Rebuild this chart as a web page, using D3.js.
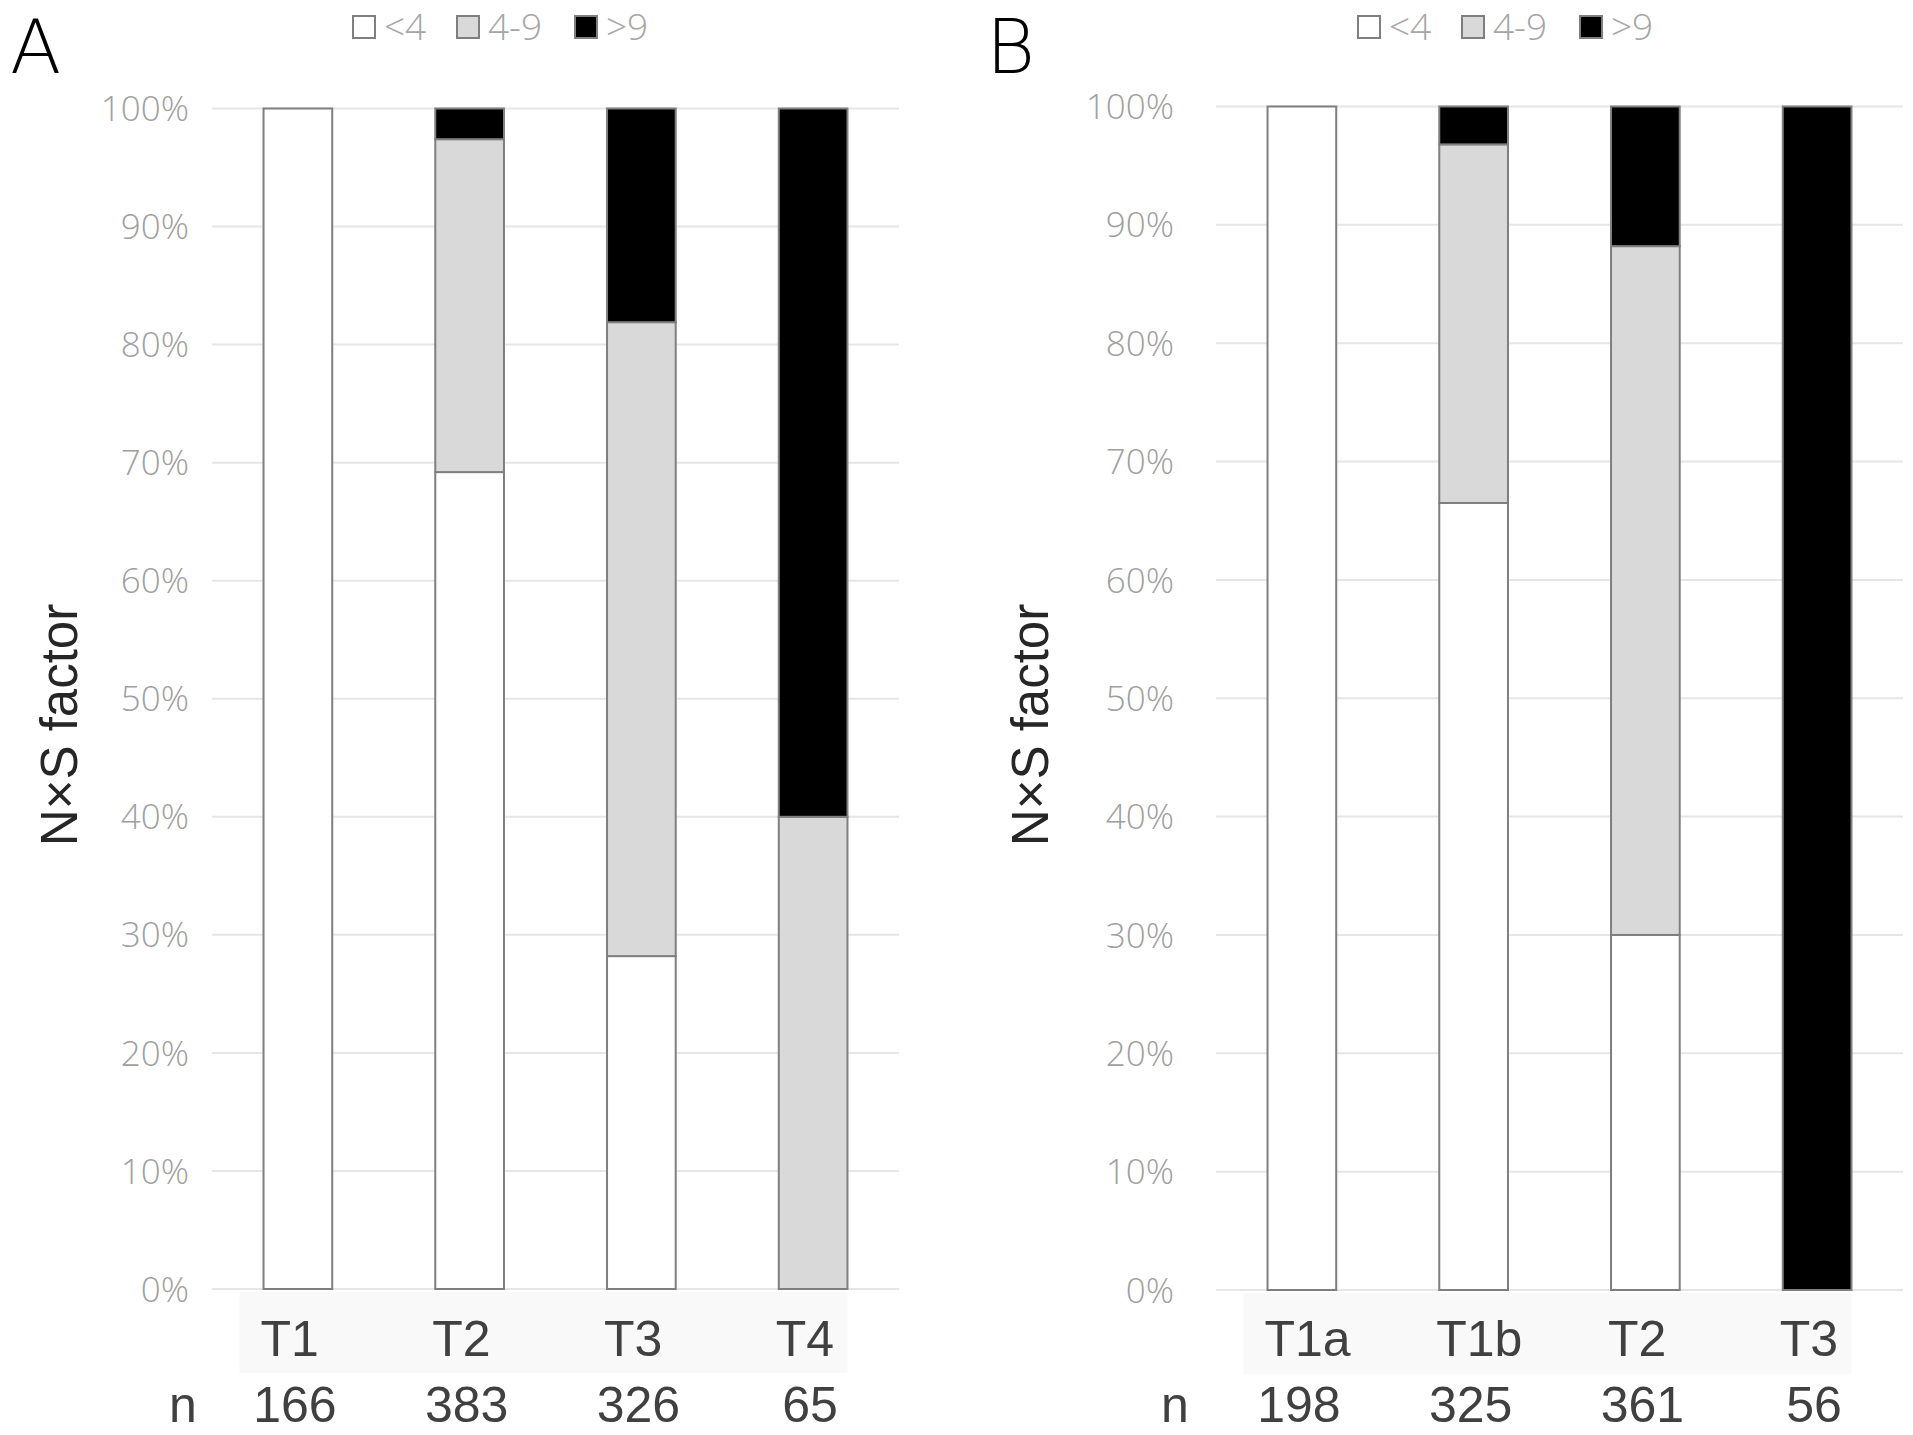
<!DOCTYPE html>
<html>
<head>
<meta charset="utf-8">
<script src="https://cdn.jsdelivr.net/npm/d3@7"></script>
<style>
  body { margin: 0; background: #fff; }
  svg { display: block; }
</style>
</head>
<body>
<div id="chart"></div>
<script>
// data (percent of cases per N×S factor group)
var legendKeys = ["<4", "4-9", ">9"];
var yTicks = [0, 10, 20, 30, 40, 50, 60, 70, 80, 90, 100];

var catsA = ["T1", "T2", "T3", "T4"];
var nA = [166, 383, 326, 65];
var lowA = [100, 69.2, 28.2, 0];
var midA = [0, 28.2, 53.7, 40];
var highA = [0, 2.6, 18.1, 60];

var catsB = ["T1a", "T1b", "T2", "T3"];
var nB = [198, 325, 361, 56];
var lowB = [100, 66.5, 30.0, 0];
var midB = [0, 30.3, 58.2, 0];
var highB = [0, 3.2, 11.8, 100];

var svgWidth = 1913;
var svgHeight = 1435;
var fills = ["#ffffff", "#d9d9d9", "#000000"];
var lightFont = "'Open Sans', 'DejaVu Sans', sans-serif";
var letterFont = "'DejaVu Sans ExtraLight', 'DejaVu Sans', sans-serif";
var textFont = "'Liberation Sans', Arial, sans-serif";

var svg = d3.select("#chart")
  .append("svg")
  .attr("width", svgWidth)
  .attr("height", svgHeight);

// one panel of the figure
function drawPanel(p) {
  var rows = p.cats.map(function(c, i) {
    return { cat: c, "<4": p.low[i], "4-9": p.mid[i], ">9": p.high[i] };
  });
  var series = d3.stack().keys(legendKeys)(rows);

  var xScale = d3.scaleBand()
    .domain(p.cats)
    .range([p.x0, p.x1])
    .paddingInner(0.6)
    .paddingOuter(0.3);
  var yScale = d3.scaleLinear()
    .domain([0, 100])
    .range([p.yBottom, p.yTop]);

  var g = svg.append("g");

  // panel letter
  g.append("text")
    .attr("x", p.letterX)
    .attr("y", 73)
    .attr("font-family", letterFont)
    .attr("font-weight", 200)
    .attr("font-size", "75px")
    .attr("fill", "#000")
    .text(p.letter);

  // legend
  var lg = g.append("g").attr("transform", `translate(${p.legendX}, 15)`);
  var legendOffsets = [0, 104, 222];
  legendKeys.forEach(function(k, i) {
    lg.append("rect")
      .attr("x", legendOffsets[i] + 1)
      .attr("y", 1)
      .attr("width", 22)
      .attr("height", 22)
      .attr("fill", fills[i])
      .attr("stroke", "#7f7f7f")
      .attr("stroke-width", 2);
    lg.append("text")
      .attr("x", legendOffsets[i] + 32)
      .attr("y", 25)
      .attr("font-family", lightFont)
      .attr("font-weight", 300)
      .attr("font-size", "37px")
      .attr("fill", "#a6a6a6")
      .text(k);
  });

  // gridlines
  g.append("g")
    .selectAll("line")
    .data(yTicks)
    .enter()
    .append("line")
    .attr("x1", p.x0)
    .attr("x2", p.x1)
    .attr("y1", d => yScale(d))
    .attr("y2", d => yScale(d))
    .attr("stroke", "#e6e6e6")
    .attr("stroke-width", 2);

  // y tick labels
  g.append("g")
    .selectAll("text")
    .data(yTicks)
    .enter()
    .append("text")
    .attr("x", p.tickRight)
    .attr("y", d => yScale(d))
    .attr("dy", "0.36em")
    .attr("text-anchor", "end")
    .attr("font-family", lightFont)
    .attr("font-weight", 300)
    .attr("font-size", "35px")
    .attr("fill", "#a0a0a0")
    .text(d => d + "%");

  // y axis title
  g.append("text")
    .attr("transform", `translate(${p.titleX}, 725) rotate(-90)`)
    .attr("text-anchor", "middle")
    .attr("font-family", textFont)
    .attr("font-size", "51px")
    .attr("fill", "#262626")
    .text("N\u00d7S factor");

  // stacked bars
  g.append("g")
    .selectAll("g")
    .data(series)
    .enter()
    .append("g")
    .attr("fill", (d, i) => fills[i])
    .selectAll("rect")
    .data(d => d.filter(s => s[1] - s[0] > 0))
    .enter()
    .append("rect")
    .attr("x", d => xScale(d.data.cat))
    .attr("y", d => yScale(d[1]))
    .attr("width", xScale.bandwidth())
    .attr("height", d => yScale(d[0]) - yScale(d[1]))
    .attr("stroke", "#7f7f7f")
    .attr("stroke-width", 2);

  // data table under the axis
  var first = xScale(p.cats[0]);
  var last = xScale(p.cats[p.cats.length - 1]) + xScale.bandwidth();
  g.append("rect")
    .attr("x", first - 24)
    .attr("y", p.yBottom + 3)
    .attr("width", last - first + 24)
    .attr("height", 81)
    .attr("fill", "#f9f9f9");

  g.append("g")
    .selectAll("text")
    .data(p.cats)
    .enter()
    .append("text")
    .attr("x", d => xScale(d) - 3)
    .attr("y", 1356)
    .attr("font-family", textFont)
    .attr("font-size", "50px")
    .attr("fill", "#404040")
    .text(d => d);

  g.append("text")
    .attr("x", p.nX)
    .attr("y", 1422)
    .attr("text-anchor", "middle")
    .attr("font-family", textFont)
    .attr("font-size", "50px")
    .attr("fill", "#404040")
    .text("n");

  g.append("g")
    .selectAll("text")
    .data(p.n)
    .enter()
    .append("text")
    .attr("x", (d, i) => xScale(p.cats[i]) + xScale.bandwidth() / 2 - 3)
    .attr("y", 1422)
    .attr("text-anchor", "middle")
    .attr("font-family", textFont)
    .attr("font-size", "50px")
    .attr("fill", "#404040")
    .text(d => d);
}

drawPanel({
  letter: "A", letterX: 10, legendX: 352,
  cats: catsA, n: nA, low: lowA, mid: midA, high: highA,
  x0: 212, x1: 899, yTop: 108.5, yBottom: 1289,
  tickRight: 189, titleX: 77, nX: 183
});

drawPanel({
  letter: "B", letterX: 986, legendX: 1357,
  cats: catsB, n: nB, low: lowB, mid: midB, high: highB,
  x0: 1216, x1: 1903, yTop: 106.5, yBottom: 1290,
  tickRight: 1174, titleX: 1048, nX: 1175
});
</script>
</body>
</html>
